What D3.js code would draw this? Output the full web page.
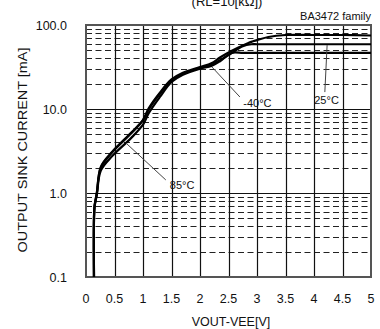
<!DOCTYPE html>
<html>
<head>
<meta charset="utf-8">
<script src="https://cdn.jsdelivr.net/npm/d3@7"></script>
<style>
  html, body { margin: 0; padding: 0; background: #fff; }
  svg { display: block; font-family: "Liberation Sans", Arial, sans-serif; }
</style>
</head>
<body>
<svg id="chart" width="380" height="329"></svg>
<script>
// Output sink current vs. output voltage, three ambient temperatures
const voltage = [0.14, 0.14, 0.15, 0.19, 0.26, 0.46, 0.79, 1.0, 1.1, 1.3, 1.5, 1.7, 2.0, 2.2, 2.35, 2.55, 2.75, 2.9, 3.0, 3.2, 3.5, 4.0, 4.5, 5.0];
const sinkMinus40 = [0.1, 0.5, 0.7, 1.0, 2.05, 3.1, 5.2, 7.4, 10.2, 15.8, 22.5, 27, 31.5, 35, 41, 49, 57, 63, 66, 72, 76, 76, 76, 75];
const sink25      = [0.1, 0.5, 0.7, 1.0, 2.0, 3.05, 5.1, 7.3, 9.9, 15.3, 21.8, 26.2, 30.8, 33.5, 38, 46, 56, 59, 59, 59, 59, 59, 59, 59];
const sink85      = [0.1, 0.48, 0.68, 0.95, 1.85, 2.75, 4.5, 6.5, 8.9, 14.0, 21.0, 25.6, 30.2, 32.5, 37, 46.5, 46.5, 46.5, 46.5, 46.5, 46.5, 46.5, 46.5, 46.5];

const seriesNames = ["-40°C", "25°C", "85°C"];
const xTicks = [0, 0.5, 1, 1.5, 2, 2.5, 3, 3.5, 4, 4.5, 5];
const xTickLabels = ["0", "0.5", "1", "1.5", "2", "2.5", "3", "3.5", "4", "4.5", "5"];
const yTicks = [0.1, 1, 10, 100];
const yTickLabels = ["0.1", "1.0", "10.0", "100.0"];

// Callouts: label anchor and leader line (from curve point to label), in data units
const callouts = [
  { text: "-40°C", lx: 2.76, ly: 10.6, anchor: "start", from: [2.21, 31.6], to: [2.70, 13.9] },
  { text: "25°C",  lx: 4.22, ly: 11.5, anchor: "middle", from: [4.23, 57.7], to: [4.19, 15.9] },
  { text: "85°C",  lx: 1.47, ly: 1.12, anchor: "start", from: [0.70, 3.94], to: [1.40, 1.43] }
];

const svg = d3.select("#chart");
const plotLeft = 86, plotRight = 371, plotTop = 25, plotBottom = 277;

const x = d3.scaleLinear().domain([0, 5]).range([plotLeft, plotRight]);
const y = d3.scaleLog().domain([0.1, 100]).range([plotBottom, plotTop]);

// Minor (dashed) horizontal grid: 2..9 within each decade
const minor = [];
[0.1, 1, 10].forEach(d => { for (let k = 2; k <= 9; k++) minor.push(d * k); });
svg.append("g").selectAll("line").data(minor).join("line")
  .attr("x1", plotLeft).attr("x2", plotRight)
  .attr("y1", d => Math.round(y(d)) + 0.5).attr("y2", d => Math.round(y(d)) + 0.5)
  .attr("stroke", "#222").attr("stroke-width", 1.2)
  .attr("stroke-dasharray", "6,3.5");

// Major horizontal grid at decades
svg.append("g").selectAll("line").data([1, 10]).join("line")
  .attr("x1", plotLeft).attr("x2", plotRight)
  .attr("y1", d => Math.round(y(d)) + 0.5).attr("y2", d => Math.round(y(d)) + 0.5)
  .attr("stroke", "#111").attr("stroke-width", 1.2);

// Vertical grid every 0.5 V
svg.append("g").selectAll("line").data(xTicks.slice(1, -1)).join("line")
  .attr("x1", d => Math.round(x(d)) + 0.5).attr("x2", d => Math.round(x(d)) + 0.5)
  .attr("y1", plotTop).attr("y2", plotBottom)
  .attr("stroke", "#111").attr("stroke-width", 1.2);

// Plot frame
svg.append("rect")
  .attr("x", plotLeft).attr("y", plotTop)
  .attr("width", plotRight - plotLeft).attr("height", plotBottom - plotTop)
  .attr("fill", "none").attr("stroke", "#555").attr("stroke-width", 2);

// Curves
const line = d3.line()
  .x(d => x(d[0])).y(d => y(d[1]))
  .curve(d3.curveCatmullRom.alpha(0.5));
const series = [sinkMinus40, sink25, sink85];
svg.append("g").selectAll("path").data(series).join("path")
  .attr("d", s => line(voltage.map((v, i) => [v, s[i]])))
  .attr("fill", "none").attr("stroke", "#000").attr("stroke-width", 2.2)
  .attr("stroke-linejoin", "round");

// Callout leader lines and labels
const cg = svg.append("g");
cg.selectAll("line").data(callouts).join("line")
  .attr("x1", d => x(d.from[0])).attr("y1", d => y(d.from[1]))
  .attr("x2", d => x(d.to[0])).attr("y2", d => y(d.to[1]))
  .attr("stroke", "#444").attr("stroke-width", 1);
cg.selectAll("text").data(callouts).join("text")
  .attr("x", d => x(d.lx)).attr("y", d => y(d.ly))
  .attr("text-anchor", d => d.anchor)
  .attr("font-size", 11).attr("fill", "#111")
  .text(d => d.text);

// Axis tick labels
svg.append("g").selectAll("text").data(xTicks).join("text")
  .attr("x", d => x(d)).attr("y", 303)
  .attr("text-anchor", "middle").attr("font-size", 12.5).attr("fill", "#111")
  .text((d, i) => xTickLabels[i]);
svg.append("g").selectAll("text").data(yTicks).join("text")
  .attr("x", 67).attr("y", d => y(d) + 4.5)
  .attr("text-anchor", "end").attr("font-size", 12.5).attr("fill", "#111")
  .text((d, i) => yTickLabels[i]);

// Axis titles
svg.append("text")
  .attr("x", 231).attr("y", 326)
  .attr("text-anchor", "middle").attr("font-size", 12.5).attr("fill", "#111")
  .text("VOUT-VEE[V]");
svg.append("text")
  .attr("transform", "translate(27,150) rotate(-90)")
  .attr("text-anchor", "middle").attr("font-size", 12.5).attr("fill", "#111")
  .attr("textLength", 205).attr("lengthAdjust", "spacingAndGlyphs")
  .text("OUTPUT SINK CURRENT [mA]");

// Header texts
svg.append("text")
  .attr("x", 227).attr("y", 6)
  .attr("text-anchor", "middle").attr("font-size", 13).attr("fill", "#111")
  .text("(RL=10[kΩ])");
svg.append("text")
  .attr("x", 371).attr("y", 20)
  .attr("text-anchor", "end").attr("font-size", 11).attr("fill", "#111")
  .text("BA3472 family");
</script>
</body>
</html>
